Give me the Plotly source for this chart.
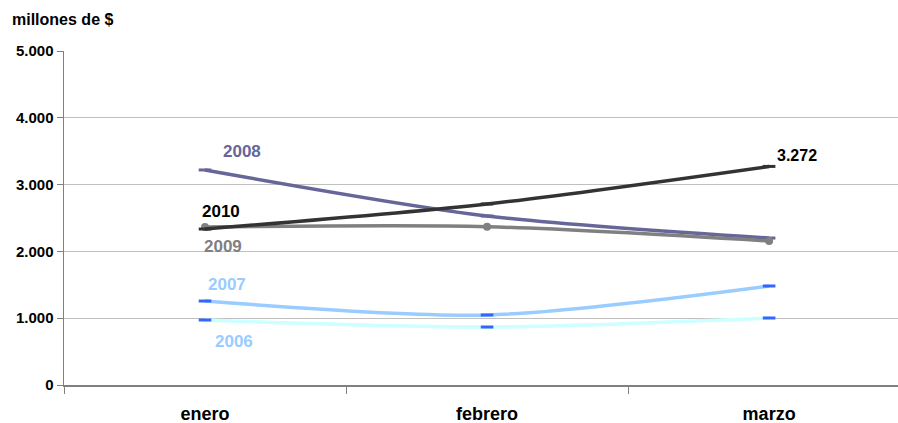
import plotly.graph_objects as go

months = ["enero", "febrero", "marzo"]
years = ["2006", "2007", "2008", "2009", "2010"]
v2006 = [973, 868, 1003]
v2007 = [1257, 1048, 1482]
v2008 = [3219, 2530, 2200]
v2009 = [2365, 2370, 2155]
v2010 = [2335, 2710, 3272]
values = {"2006": v2006, "2007": v2007, "2008": v2008, "2009": v2009, "2010": v2010}

y_ticks = [0, 1000, 2000, 3000, 4000, 5000]
y_tick_labels = ["0", "1.000", "2.000", "3.000", "4.000", "5.000"]

line_colors = {"2006": "#CCFFFF", "2007": "#99CCFF", "2008": "#666699", "2009": "#808080", "2010": "#333333"}
label_colors = {"2006": "#99CCFF", "2007": "#99CCFF", "2008": "#666699", "2009": "#808080", "2010": "#000000"}
marker_styles = {
    "2006": dict(symbol="line-ew", size=9, line=dict(color="#3366FF", width=3)),
    "2007": dict(symbol="line-ew", size=9, line=dict(color="#3366FF", width=3)),
    "2008": dict(symbol="line-ew", size=9, line=dict(color="#666699", width=3)),
    "2009": dict(symbol="circle", size=8, color="#808080"),
    "2010": dict(symbol="line-ew", size=9, line=dict(color="#333333", width=3)),
}
# label positions (category-index x, value y)
label_pos = {"2008": (0.13, 3500), "2010": (0.057, 2600), "2009": (0.064, 2080),
             "2007": (0.078, 1500), "2006": (0.103, 650)}

FONT = "Liberation Sans, Arial, sans-serif"
fig = go.Figure()
for yr in years:
    fig.add_trace(go.Scatter(
        x=months, y=values[yr], mode="lines+markers", name=yr,
        line=dict(color=line_colors[yr], width=3.5, shape="spline", smoothing=0.8),
        marker=marker_styles[yr], showlegend=False, hoverinfo="skip"))

for yr, (lx, ly) in label_pos.items():
    fig.add_annotation(x=lx, y=ly, xref="x", yref="y", text="<b>%s</b>" % yr, showarrow=False,
                       font=dict(family=FONT, size=17, color=label_colors[yr]))

fig.add_annotation(x=2.1, y=3443, xref="x", yref="y", text="<b>3.272</b>", showarrow=False,
                   font=dict(family=FONT, size=16, color="#000000"))

fig.update_layout(
    width=898, height=423,
    margin=dict(l=64, r=0, t=51, b=38),
    paper_bgcolor="white", plot_bgcolor="white",
    font=dict(family=FONT, color="#000000"),
    title=dict(text="<b>millones de $</b>", x=12 / 898, xref="container", xanchor="left",
               y=1 - 19 / 423, yref="container", yanchor="middle",
               font=dict(size=16, color="#000000")),
)
fig.update_xaxes(
    type="category", range=[-0.5, 2.457], tickson="boundaries",
    ticks="outside", ticklen=7, tickcolor="#808080",
    showline=True, linecolor="#808080", linewidth=1.5, showgrid=False,
    tickfont=dict(size=18), ticklabelstandoff=12, zeroline=False,
    tickvals=months, ticktext=["<b>%s</b>" % m for m in months])
fig.update_yaxes(
    range=[0, 5000], tickvals=y_ticks, ticktext=["<b>%s</b>" % t for t in y_tick_labels],
    ticks="outside", ticklen=6, tickcolor="#808080",
    showline=True, linecolor="#808080", linewidth=1.5,
    showgrid=True, gridcolor="#C0C0C0", gridwidth=1, zeroline=False,
    tickfont=dict(size=15))

fig.write_html("out.html", config={"displayModeBar": False, "staticPlot": True},
               post_script="document.body.style.margin='0px';document.body.style.overflow='hidden';")
